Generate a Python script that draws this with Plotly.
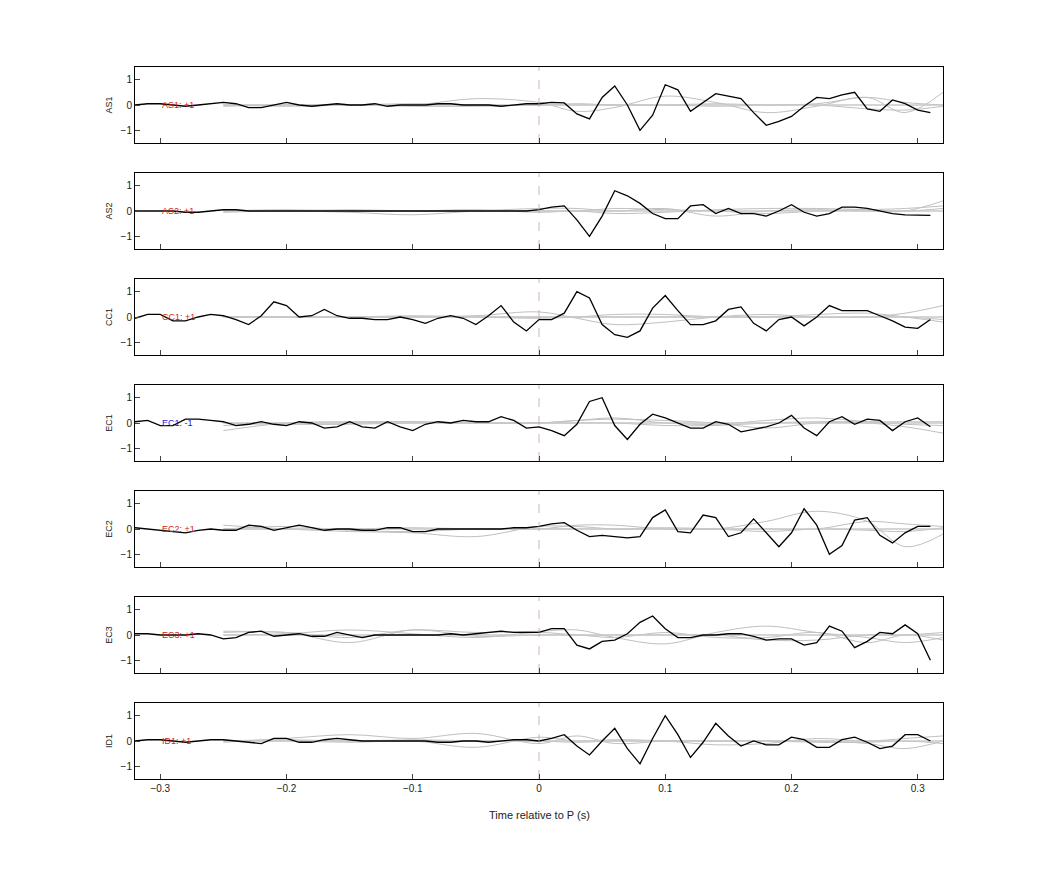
import plotly.graph_objects as go

names = ["AS1", "AS2", "CC1", "EC1", "EC2", "EC3", "ID1"]
labels = ["AS1: +1", "AS2: +1", "CC1: +1", "EC1: -1", "EC2: +1", "EC3: +1", "ID1: +1"]
label_colors = ["#d62020", "#d62020", "#d62020", "#2020d6", "#d62020", "#d62020", "#d62020"]

t = [round(-0.32 + 0.01 * i, 2) for i in range(64)]

as1 = [0,0.05,0.05,0,-0.05,0,0.05,0.1,0.05,-0.1,-0.1,0,0.1,0,-0.05,0,0.05,0,0,0.05,-0.05,0,0,0,0.05,0.05,0,0,0,-0.05,0,0.05,
       0.05,0.1,0.08,-0.35,-0.55,0.3,0.75,0.0,-1.0,-0.4,0.8,0.6,-0.25,0.1,0.45,0.35,0.25,-0.3,-0.8,-0.65,-0.45,-0.05,0.3,0.25,0.4,0.5,-0.15,-0.25,0.2,0.05,-0.2,-0.3]
as2 = [0,0,0,0,-0.05,-0.05,0,0.05,0.05,0,0,0,0,0,0,0,0,0,0,0,0,0,0,0,0,0,0,0,0,0,0,0,
       0.05,0.15,0.2,-0.35,-1.0,-0.2,0.8,0.6,0.3,-0.1,-0.3,-0.3,0.2,0.25,-0.1,0.1,-0.1,-0.1,-0.2,0.0,0.25,-0.05,-0.2,-0.1,0.15,0.15,0.1,0.0,-0.1,-0.15,-0.17,-0.17]
cc1 = [-0.05,0.1,0.1,-0.15,-0.15,0.0,0.1,0.05,-0.1,-0.3,0.05,0.6,0.45,0.0,0.05,0.3,0.05,-0.05,-0.05,-0.1,-0.1,0.0,-0.1,-0.25,-0.05,0.05,-0.05,-0.3,0.05,0.45,-0.2,-0.55,
       -0.1,-0.1,0.15,1.0,0.75,-0.3,-0.7,-0.8,-0.55,0.35,0.85,0.25,-0.3,-0.3,-0.15,0.3,0.4,-0.25,-0.55,-0.1,0.0,-0.35,0.0,0.45,0.25,0.25,0.25,0.05,-0.15,-0.4,-0.45,-0.1]
ec1 = [0.05,0.1,-0.1,-0.1,0.15,0.15,0.1,0.05,-0.1,-0.05,0.05,-0.05,-0.1,0.05,0.0,-0.2,-0.15,0.05,-0.15,-0.2,0.05,-0.15,-0.3,-0.05,0.05,0.0,0.1,0.05,0.05,0.25,0.1,-0.2,
       -0.15,-0.3,-0.5,-0.05,0.85,1.0,-0.1,-0.65,-0.05,0.35,0.2,0.0,-0.2,-0.2,0.05,-0.05,-0.35,-0.25,-0.15,0.0,0.3,-0.2,-0.5,0.05,0.25,-0.05,0.15,0.1,-0.3,0.05,0.2,-0.15]
ec2 = [0.05,0.0,-0.05,-0.1,-0.15,-0.05,0.0,-0.05,-0.05,0.15,0.1,-0.05,0.05,0.15,0.05,-0.05,0.0,0.0,-0.05,-0.05,0.05,0.05,-0.1,-0.1,0.0,0.0,0.0,0.0,0.0,0.0,0.05,0.05,
       0.1,0.2,0.25,-0.05,-0.3,-0.25,-0.3,-0.35,-0.3,0.45,0.75,-0.1,-0.15,0.55,0.45,-0.3,-0.15,0.4,-0.15,-0.7,-0.15,0.8,0.15,-1.0,-0.65,0.35,0.45,-0.25,-0.55,-0.15,0.1,0.1]
ec3 = [0.05,0.05,0.0,0.0,0.0,0.05,0.0,-0.15,-0.1,0.1,0.15,-0.05,0.0,0.05,-0.05,-0.05,0.1,0.0,-0.1,0.0,0.0,0.0,0.0,0.0,0.0,0.05,0.0,0.05,0.1,0.15,0.1,0.1,
       0.1,0.25,0.25,-0.4,-0.55,-0.25,-0.2,0.05,0.5,0.75,0.25,-0.1,-0.1,0.0,0.0,0.05,0.05,-0.05,-0.2,-0.15,-0.15,-0.4,-0.3,0.35,0.15,-0.5,-0.25,0.1,0.05,0.4,0.05,-1.0]
id1 = [0.0,0.05,0.05,0.0,-0.05,0.0,0.05,0.05,0.0,-0.05,-0.1,0.1,0.1,-0.05,-0.05,0.05,0.1,0.05,0.0,0.0,0.0,0.0,0.0,0.0,-0.05,-0.05,0.0,0.0,-0.05,0.0,0.05,0.05,
       0.0,0.1,0.25,-0.2,-0.55,0.0,0.5,-0.3,-0.9,0.1,1.0,0.25,-0.65,-0.05,0.7,0.2,-0.2,0.0,-0.15,-0.15,0.15,0.05,-0.25,-0.25,0.05,0.15,-0.05,-0.3,-0.2,0.25,0.25,0.0]
black = [as1, as2, cc1, ec1, ec2, ec3, id1]

gx = [-0.25,-0.2,-0.15,-0.1,-0.05,0.0,0.03,0.06,0.1,0.14,0.18,0.22,0.26,0.29,0.32]
gray = [
    [[0,0,0,0,0.25,0.1,-0.25,-0.1,0.35,0.1,-0.3,-0.05,0.3,-0.3,0.5],
     [0,-0.05,0,0.05,0,0,0.05,0,0,-0.05,0,0.05,0.3,0.1,0],
     [-0.05,0,0,-0.05,-0.05,0,0,0,0,0.05,0,0,-0.15,-0.2,-0.05]],
    [[-0.05,0,-0.05,-0.15,0,0.1,0.1,0,0.1,-0.2,0,0.05,0,0,0.4],
     [0,0.05,0,0,0.05,-0.05,0,-0.1,-0.05,0.05,0.1,0.1,0.05,0,0.1],
     [0,0,0.05,0,0,0,0,0.1,0.05,0,-0.1,0,0.05,0.1,0.2]],
    [[0,0,0,0,0.05,0.2,-0.05,-0.3,-0.2,0,0.1,0,0,0.15,0.45],
     [0,0,0,0.05,0,-0.05,0,0.1,0.1,0,0,0.1,0.15,0,-0.2],
     [0,0,0,0,0,0,0,0,0,0,0,0,0,0,-0.1]],
    [[-0.3,0,0.05,0.05,0,0,0.1,0.15,0.1,0,-0.2,0,0,-0.15,-0.4],
     [-0.1,0,0,0.05,0,0,0.1,0.2,0,-0.05,0.1,0.2,0.05,-0.05,-0.1],
     [0,-0.05,-0.05,0,0,0,0,0,-0.1,-0.1,0,0.05,0.05,0.05,0.05]],
    [[0.15,0,-0.1,-0.15,-0.3,0.1,0.1,0,0,0,0.3,0.7,0.3,-0.7,-0.2],
     [0,0.1,-0.05,-0.1,0,0,0.15,0.15,0,0,0,0,0.3,0.2,0.1],
     [0,0,0,0.05,0,0,0,0,0.05,0,-0.1,0,-0.05,-0.1,0.05]],
    [[0.15,0.1,-0.1,0.2,0.1,0.15,0.2,-0.1,-0.35,0.1,0.35,0.1,-0.1,-0.3,-0.1],
     [0.1,0.1,-0.3,0.2,-0.05,0,0,-0.1,0.1,-0.1,-0.1,0.1,-0.3,0,-0.2],
     [0,0.05,0.2,0.05,-0.1,0.1,0,0,0,0,-0.2,-0.2,0,0,0.1]],
    [[-0.05,0.1,0.25,0.1,0.3,-0.1,0.2,-0.1,0,0,0,0,-0.1,-0.3,0],
     [0,0,-0.05,0,-0.25,0.15,0,0.05,0,-0.15,-0.1,0.1,0,0.1,0.2],
     [0,0.05,0,0.05,0,0,-0.05,0,0,0,0,-0.05,-0.05,0,-0.1]],
]

fig = go.Figure()
W, H = 1042, 875
OX, OY = 8, 7
L, R = (135 - OX) / W, (943 - OX) / W
for k in range(7):
    top = 1 - (66 - OY + 106 * k) / H
    bot = top - 76 / H
    xa = "x" if k == 0 else f"x{k+1}"
    ya = "y" if k == 0 else f"y{k+1}"
    xk = "xaxis" if k == 0 else f"xaxis{k+1}"
    yk = "yaxis" if k == 0 else f"yaxis{k+1}"
    for g in gray[k]:
        fig.add_trace(go.Scatter(x=gx, y=g, mode="lines", line=dict(color="#c0c0c0", width=1, shape="spline"),
                                 xaxis=xa, yaxis=ya, showlegend=False, hoverinfo="skip"))
    fig.add_trace(go.Scatter(x=[gx[0], 0.32], y=[0, 0], mode="lines", line=dict(color="#c8c8c8", width=1.5),
                             xaxis=xa, yaxis=ya, showlegend=False, hoverinfo="skip"))
    fig.add_trace(go.Scatter(x=t, y=black[k], mode="lines", line=dict(color="black", width=1.3),
                             xaxis=xa, yaxis=ya, showlegend=False))
    fig.add_trace(go.Scatter(x=[0, 0], y=[-1.5, 1.5], mode="lines", line=dict(color="#c8a0a0", width=0.8, dash="dash"),
                             xaxis=xa, yaxis=ya, showlegend=False, hoverinfo="skip"))
    fig.add_annotation(x=-0.3, y=0, xref=xa, yref=ya, text=labels[k], showarrow=False, xanchor="left",
                       font=dict(size=9, color=label_colors[k], family="Liberation Sans"))
    fig.layout[xk] = dict(domain=[L, R], range=[-0.32, 0.32], anchor=ya, showline=True, mirror=True,
                          linecolor="black", linewidth=1, ticks="inside", ticklen=5,
                          tickvals=[-0.3, -0.2, -0.1, 0, 0.1, 0.2, 0.3], showgrid=False, zeroline=False,
                          showticklabels=(k == 6), tickfont=dict(size=10))
    fig.layout[yk] = dict(domain=[bot, top], range=[-1.5, 1.5], anchor=xa, showline=True, mirror=True,
                          linecolor="black", linewidth=1, ticks="inside", ticklen=5, tickvals=[-1, 0, 1],
                          showgrid=False, zeroline=False, tickfont=dict(size=10),
                          title=dict(text=names[k], font=dict(size=9), standoff=6))

fig.add_annotation(x=0.5 * (L + R), y=1 - 815 / H, xref="paper", yref="paper", text="Time relative to P (s)",
                   showarrow=False, font=dict(size=11))
fig.update_layout(width=W, height=H, margin=dict(l=0, r=0, t=0, b=0), plot_bgcolor="white",
                  paper_bgcolor="white", font=dict(family="Liberation Sans", color="#222"))
fig.write_html("out.html")
